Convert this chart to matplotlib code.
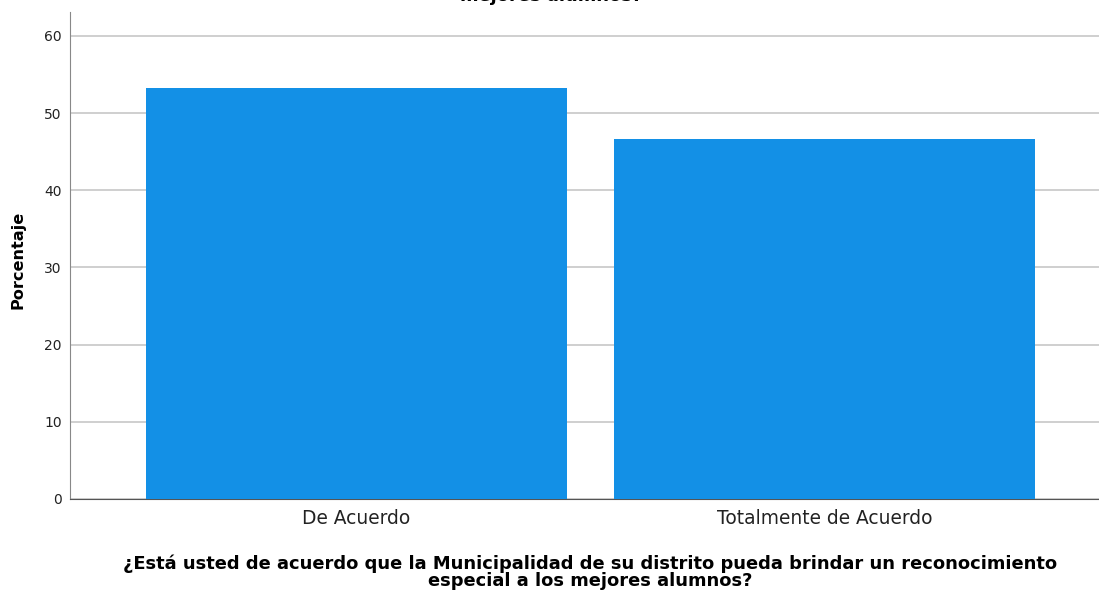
import matplotlib.pyplot as plt

plt.rcParams["font.family"] = ["DejaVu Sans"]

categories = ["De Acuerdo", "Totalmente de Acuerdo"]
porcentaje = [53.3, 46.7]
y_ticks = [0, 10, 20, 30, 40, 50, 60]

W, H = 1099, 593
fig = plt.figure(figsize=(W / 100, H / 100), dpi=100)
ax = fig.add_axes([70 / W, (H - 499) / H, 1 - 70 / W, (499 - 12) / H])

x = list(range(len(categories)))
ax.bar(x, porcentaje, width=0.9, color="#1390e6", zorder=3)

ax.set_xlim(-0.612, 1.587)
ax.set_ylim(0, 63.1)
ax.set_yticks(y_ticks)
ax.set_xticks(x)
ax.set_xticklabels(categories, fontsize=13.4, color="#222222")
ax.tick_params(axis="y", labelsize=10, length=0, pad=6, labelcolor="#222222")
ax.tick_params(axis="x", length=0, pad=7)
ax.grid(axis="y", color="#cccccc", linewidth=1.3, zorder=0)

for s in ["top", "right"]:
    ax.spines[s].set_visible(False)
ax.spines["left"].set_color("#888888")
ax.spines["bottom"].set_color("#555555")

fig.text(18 / W, 1 - 260 / H, "Porcentaje", rotation=90, ha="center", va="center",
         fontsize=11.6, fontweight="bold")

fig.text(590 / W, 1 - 564 / H, "¿Está usted de acuerdo que la Municipalidad de su distrito pueda brindar un reconocimiento",
         ha="center", va="center", fontsize=12.9, fontweight="bold")
fig.text(590 / W, 1 - 581 / H, "especial a los mejores alumnos?",
         ha="center", va="center", fontsize=12.9, fontweight="bold")

# titulo cortado en la parte superior, como en la imagen original
fig.text(551 / W, 1.0 + 13 / H, "mejores alumnos?", ha="center", va="top",
         fontsize=12.9, fontweight="bold")

fig.savefig("out.png", dpi=100)
